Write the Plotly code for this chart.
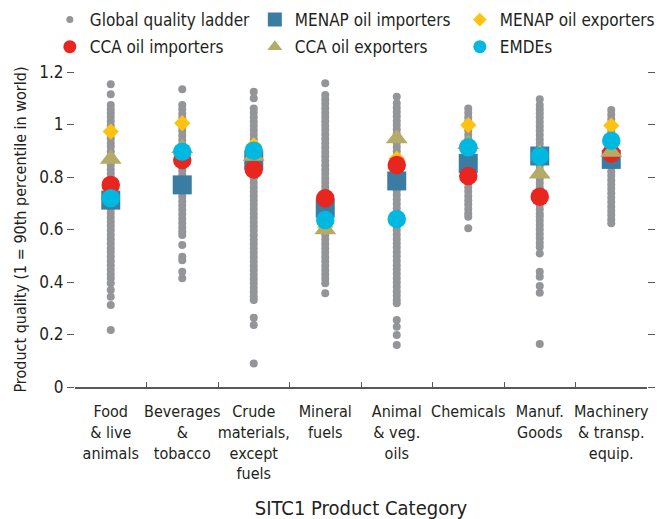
import plotly.graph_objects as go

categories = [
    "Food<br>& live<br>animals",
    "Beverages<br>&<br>tobacco",
    "Crude<br>materials,<br>except<br>fuels",
    "Mineral<br>fuels",
    "Animal<br>& veg.<br>oils",
    "Chemicals",
    "Manuf.<br>Goods",
    "Machinery<br>& transp.<br>equip.",
]

# global quality ladder (grey dots), one list per category
ladder_food = [1.153, 1.115, 1.074, 1.058, 1.044, 1.03, 1.013, 0.996, 0.981, 0.964, 0.947, 0.93, 0.915,
               0.897, 0.88, 0.864, 0.846, 0.83, 0.813, 0.797, 0.779, 0.763, 0.746, 0.73, 0.713, 0.697,
               0.68, 0.663, 0.646, 0.63, 0.614, 0.597, 0.58, 0.564, 0.547, 0.53, 0.514, 0.497, 0.48,
               0.464, 0.447, 0.43, 0.414, 0.395, 0.37, 0.344, 0.312, 0.217]
ladder_bev = [1.134, 1.074, 1.058, 1.041, 1.025, 1.008, 0.991, 0.975, 0.958, 0.941, 0.925, 0.908, 0.891,
              0.875, 0.858, 0.841, 0.825, 0.808, 0.791, 0.775, 0.758, 0.741, 0.725, 0.708, 0.691,
              0.675, 0.658, 0.641, 0.625, 0.608, 0.592, 0.579, 0.541, 0.496, 0.483, 0.439, 0.414]
ladder_crude = [1.125, 1.10, 1.061, 1.045, 1.028, 1.011, 0.995, 0.978, 0.961, 0.945, 0.928, 0.911,
                0.895, 0.878, 0.861, 0.845, 0.828, 0.811, 0.795, 0.778, 0.761, 0.745, 0.728, 0.711,
                0.695, 0.678, 0.661, 0.645, 0.628, 0.611, 0.595, 0.578, 0.561, 0.545, 0.528, 0.511,
                0.495, 0.478, 0.461, 0.445, 0.428, 0.411, 0.395, 0.378, 0.362, 0.345, 0.331, 0.264,
                0.236, 0.09]
ladder_fuels = [1.157, 1.112, 1.095, 1.079, 1.062, 1.045, 1.029, 1.012, 0.995, 0.979, 0.962, 0.945,
                0.929, 0.912, 0.895, 0.879, 0.862, 0.845, 0.829, 0.812, 0.795, 0.779, 0.762, 0.745,
                0.729, 0.712, 0.695, 0.679, 0.662, 0.645, 0.629, 0.612, 0.595, 0.579, 0.562, 0.545,
                0.529, 0.512, 0.495, 0.479, 0.462, 0.445, 0.429, 0.412, 0.395, 0.357]
ladder_oils = [1.106, 1.081, 1.064, 1.048, 1.031, 1.014, 0.998, 0.981, 0.964, 0.948, 0.931, 0.914,
               0.898, 0.881, 0.864, 0.848, 0.831, 0.814, 0.798, 0.781, 0.764, 0.748, 0.731, 0.714,
               0.698, 0.681, 0.664, 0.648, 0.631, 0.614, 0.598, 0.581, 0.564, 0.548, 0.531, 0.514,
               0.498, 0.481, 0.464, 0.448, 0.431, 0.414, 0.398, 0.381, 0.364, 0.348, 0.331, 0.319,
               0.255, 0.23, 0.198, 0.16]
ladder_chem = [1.061, 1.045, 1.028, 1.011, 0.995, 0.978, 0.961, 0.945, 0.928, 0.911, 0.895, 0.878,
               0.861, 0.845, 0.828, 0.811, 0.795, 0.778, 0.761, 0.745, 0.728, 0.711, 0.695, 0.678,
               0.661, 0.649, 0.605]
ladder_manuf = [1.096, 1.074, 1.058, 1.043, 1.027, 1.01, 0.993, 0.977, 0.96, 0.943, 0.927, 0.91, 0.893,
                0.877, 0.86, 0.843, 0.827, 0.81, 0.793, 0.777, 0.76, 0.743, 0.727, 0.71, 0.693,
                0.677, 0.66, 0.649, 0.633, 0.617, 0.6, 0.583, 0.567, 0.55, 0.533, 0.509, 0.439,
                0.42, 0.385, 0.359, 0.164]
ladder_mach = [1.055, 1.038, 1.021, 1.005, 0.988, 0.971, 0.955, 0.938, 0.921, 0.905, 0.888, 0.871,
               0.855, 0.838, 0.821, 0.805, 0.788, 0.771, 0.755, 0.738, 0.721, 0.705, 0.688, 0.671,
               0.655, 0.638, 0.624]

ladders = [ladder_food, ladder_bev, ladder_crude, ladder_fuels,
           ladder_oils, ladder_chem, ladder_manuf, ladder_mach]

menap_importers = [0.712, 0.770, 0.865, 0.681, 0.785, 0.852, 0.880, 0.867]
menap_exporters = [0.973, 1.005, 0.920, 0.610, 0.870, 0.998, 0.890, 0.996]
cca_importers = [0.770, 0.865, 0.829, 0.719, 0.846, 0.804, 0.725, 0.890]
cca_exporters = [0.869, 0.910, 0.880, 0.600, 0.947, 0.925, 0.812, 0.895]
emdes = [0.719, 0.896, 0.900, 0.636, 0.640, 0.913, 0.880, 0.938]

FONT = "DejaVu Sans Condensed, Liberation Sans Narrow, sans-serif"
TEXT = "#231f20"
AXIS = "#58595b"

fig = go.Figure()

gx, gy = [], []
for cat, vals in zip(categories, ladders):
    gx += [cat] * len(vals)
    gy += vals

fig.add_trace(go.Scatter(
    x=gx, y=gy, mode="markers", showlegend=False,
    marker=dict(color="#939598", size=8),
))

# name, values, symbol, colour, plot size, legend size, legend row
series = [
    ("MENAP oil importers", menap_importers, "square", "#3b7ca3", 19, 14, "legend"),
    ("MENAP oil exporters", menap_exporters, "diamond", "#ffc20e", 12.5, 10.5, "legend"),
    ("CCA oil importers", cca_importers, "circle", "#e8251f", 18.5, 13, "legend2"),
    ("CCA oil exporters", cca_exporters, "triangle-up", "#b3ab66", 19, 13, "legend2"),
    ("EMDEs", emdes, "circle", "#00b8e0", 18.5, 13, "legend2"),
]
for name, vals, sym, col, size, _, _ in series:
    fig.add_trace(go.Scatter(
        x=categories, y=vals, mode="markers", name=name, showlegend=False,
        marker=dict(symbol=sym, color=col, size=size, line=dict(width=0)),
    ))

# legend entries (kept separate so the legend symbols can be smaller)
legend_items = [("Global quality ladder", "circle", "#939598", 7, "legend")]
legend_items += [(n, s, c, ls, lg) for n, _, s, c, _, ls, lg in series]
legend_order = ["Global quality ladder", "MENAP oil importers", "MENAP oil exporters",
                "CCA oil importers", "CCA oil exporters", "EMDEs"]
for name, sym, col, lsize, lg in legend_items:
    fig.add_trace(go.Scatter(
        x=[None], y=[None], mode="markers", name=name, legend=lg,
        legendrank=legend_order.index(name) + 1,
        marker=dict(symbol=sym, color=col, size=lsize, line=dict(width=0)),
    ))

legend_style = dict(
    orientation="h", xanchor="left", yanchor="middle", x=-0.044,
    entrywidth=160, entrywidthmode="pixels", font=dict(size=17),
    bgcolor="rgba(0,0,0,0)", borderwidth=0,
)

# the page adds an 8px body margin, so the plot margins are shifted to compensate
fig.update_layout(
    width=669, height=519,
    margin=dict(l=67, r=30, t=64, b=140, autoexpand=False),
    plot_bgcolor="white", paper_bgcolor="white",
    font=dict(family=FONT, size=17, color=TEXT),
    legend=dict(legend_style, y=1.165),
    legend2=dict(legend_style, y=1.079),
    xaxis=dict(
        type="category", categoryorder="array", categoryarray=categories,
        range=[-0.5, 7.5], tickson="boundaries", ticks="inside", ticklen=5,
        tickcolor=AXIS, showline=True, linecolor=AXIS, linewidth=1.5,
        showgrid=False, zeroline=False, tickangle=0,
        tickfont=dict(size=16), ticklabelstandoff=9,
        title=dict(text="SITC1 Product Category", standoff=19),
    ),
    yaxis=dict(
        range=[0, 1.2], tickvals=[0, 0.2, 0.4, 0.6, 0.8, 1.0, 1.2],
        ticktext=["0", "0.2", "0.4", "0.6", "0.8", "1", "1.2"],
        ticks="outside", ticklen=7, tickcolor=AXIS, mirror="ticks",
        showline=False, showgrid=False, zeroline=False,
        title=dict(text="Product quality (1 = 90th percentile in world)",
                   font=dict(size=16), standoff=8),
    ),
)

fig.write_html("out.html")
